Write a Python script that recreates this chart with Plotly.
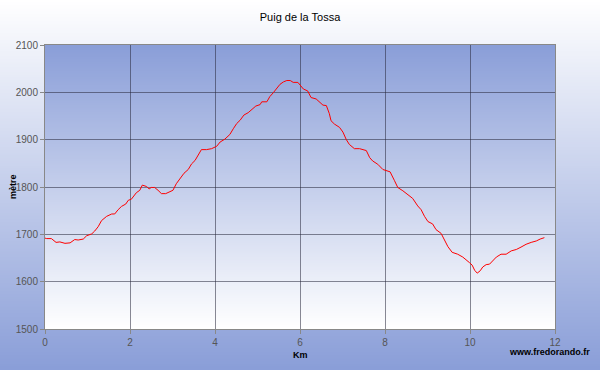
import base64, struct, zlib
import plotly.graph_objects as go

# ---- data ----
km = [0.00, 0.04, 0.15, 0.26, 0.35, 0.47, 0.59, 0.70, 0.78, 0.90, 0.98, 1.10, 1.17, 1.25,
      1.33, 1.45, 1.57, 1.64, 1.72, 1.80, 1.90, 1.96, 2.03, 2.15, 2.23, 2.29, 2.39, 2.45,
      2.50, 2.58, 2.66, 2.74, 2.84, 2.93, 3.01, 3.09, 3.17, 3.27, 3.37, 3.45, 3.53, 3.60,
      3.68, 3.80, 3.92, 4.04, 4.12, 4.23, 4.35, 4.43, 4.51, 4.59, 4.68, 4.78, 4.86, 4.96,
      5.06, 5.10, 5.22, 5.29, 5.37, 5.45, 5.53, 5.61, 5.69, 5.77, 5.84, 5.95, 6.03, 6.08,
      6.18, 6.26, 6.38, 6.46, 6.54, 6.62, 6.69, 6.73, 6.81, 6.93, 7.01, 7.09, 7.16, 7.28,
      7.40, 7.56, 7.64, 7.71, 7.83, 7.95, 8.03, 8.12, 8.22, 8.30, 8.42, 8.54, 8.65, 8.77,
      8.85, 8.93, 9.01, 9.12, 9.20, 9.32, 9.40, 9.48, 9.58, 9.71, 9.83, 9.91, 9.99, 10.05,
      10.11, 10.17, 10.24, 10.30, 10.38, 10.46, 10.54, 10.62, 10.73, 10.85, 10.97, 11.09,
      11.20, 11.32, 11.44, 11.56, 11.65, 11.75]
elev = [1692, 1691, 1691, 1683, 1684, 1681, 1682, 1689, 1688, 1690, 1697, 1701, 1707, 1716,
        1729, 1738, 1743, 1743, 1752, 1759, 1764, 1772, 1774, 1788, 1793, 1804, 1801, 1796,
        1799, 1799, 1793, 1786, 1786, 1790, 1793, 1807, 1818, 1829, 1837, 1849, 1856, 1867,
        1879, 1879, 1881, 1886, 1895, 1901, 1911, 1923, 1934, 1941, 1952, 1957, 1964, 1971,
        1974, 1980, 1980, 1991, 1999, 2008, 2017, 2022, 2025, 2025, 2021, 2021, 2012, 2007,
        2003, 1989, 1986, 1980, 1973, 1972, 1955, 1940, 1933, 1926, 1916, 1900, 1890, 1881,
        1881, 1877, 1862, 1855, 1848, 1837, 1834, 1832, 1814, 1799, 1792, 1783, 1776, 1760,
        1752, 1738, 1727, 1722, 1710, 1702, 1688, 1674, 1662, 1658, 1652, 1645, 1640, 1635,
        1624, 1618, 1623, 1631, 1636, 1637, 1645, 1652, 1658, 1658, 1665, 1668, 1673, 1679,
        1683, 1686, 1690, 1693]
x_ticks = [0, 2, 4, 6, 8, 10, 12]
y_ticks = [1500, 1600, 1700, 1800, 1900, 2000, 2100]

title = "Puig de la Tossa"
y_title = "mètre"
x_title = "Km"
credit = "www.fredorando.fr"

# ---- layout constants ----
W, H = 600, 370
ML, MR, MT, MB = 45, 45, 45, 41
PW, PH = W - ML - MR, H - MT - MB
BLUE = (138, 158, 216)
WHITE = (255, 255, 255)


def gradient_png(top, bottom, n=256):
    rows = b""
    for i in range(n):
        t = i / (n - 1)
        c = [round(top[k] + (bottom[k] - top[k]) * t) for k in range(3)]
        rows += b"\x00" + bytes(c)
    def chunk(tag, data):
        return struct.pack(">I", len(data)) + tag + data + struct.pack(">I", zlib.crc32(tag + data) & 0xffffffff)
    png = b"\x89PNG\r\n\x1a\n"
    png += chunk(b"IHDR", struct.pack(">IIBBBBB", 1, n, 8, 2, 0, 0, 0))
    png += chunk(b"IDAT", zlib.compress(rows))
    png += chunk(b"IEND", b"")
    return "data:image/png;base64," + base64.b64encode(png).decode()


def px_x(p):
    return (p - ML) / PW


def px_y(p):
    return (H - MB - p) / PH


fig = go.Figure()
fig.add_trace(go.Scatter(x=km, y=elev, mode="lines",
                         line=dict(color="#ff0000", width=1), hoverinfo="skip"))

images = [
    dict(source=gradient_png(WHITE, BLUE), xref="paper", yref="paper",
         x=px_x(0), y=px_y(0), sizex=W / PW, sizey=H / PH,
         sizing="stretch", xanchor="left", yanchor="top", layer="below"),
    dict(source=gradient_png(BLUE, WHITE), xref="paper", yref="paper",
         x=0, y=1, sizex=1, sizey=1,
         sizing="stretch", xanchor="left", yanchor="top", layer="below"),
]

axis_font = dict(family="Liberation Sans, Arial, sans-serif", size=10, color="#555555")
grid_col = "rgba(40,40,60,0.55)"

fig.update_layout(
    width=W, height=H,
    margin=dict(l=ML, r=MR, t=MT, b=MB),
    paper_bgcolor="white",
    plot_bgcolor="rgba(0,0,0,0)",
    showlegend=False,
    images=images,
    title=dict(text=title, x=0.5, xanchor="center", y=1 - 17 / H, yanchor="middle",
               font=dict(family="Liberation Sans, Arial, sans-serif", size=11, color="black")),
    xaxis=dict(range=[0, 12], tickvals=x_ticks, ticks="outside", ticklen=4, tickcolor="#888888",
               showgrid=True, gridcolor=grid_col, gridwidth=1, zeroline=False,
               showline=True, linecolor="#888888", linewidth=1, mirror=True,
               tickfont=axis_font, fixedrange=True),
    yaxis=dict(range=[1500, 2100], tickvals=y_ticks, ticks="outside", ticklen=4, tickcolor="#888888",
               showgrid=True, gridcolor=grid_col, gridwidth=1, zeroline=False,
               showline=True, linecolor="#888888", linewidth=1, mirror=True,
               tickfont=axis_font, fixedrange=True),
    annotations=[
        dict(text=f"<b>{y_title}</b>", xref="paper", yref="paper", x=px_x(13), y=px_y(187),
             textangle=-90, showarrow=False, xanchor="center", yanchor="middle",
             font=dict(family="Liberation Sans, Arial, sans-serif", size=9, color="black")),
        dict(text=f"<b>{x_title}</b>", xref="paper", yref="paper", x=px_x(300), y=px_y(355),
             showarrow=False, xanchor="center", yanchor="middle",
             font=dict(family="Liberation Sans, Arial, sans-serif", size=9, color="black")),
        dict(text=f"<b>{credit}</b>", xref="paper", yref="paper", x=px_x(592), y=px_y(352),
             showarrow=False, xanchor="right", yanchor="middle",
             font=dict(family="Liberation Sans, Arial, sans-serif", size=9, color="black")),
    ],
)

fig.write_html("out.html", config={"displayModeBar": False},
               post_script="document.body.style.margin='0';")
